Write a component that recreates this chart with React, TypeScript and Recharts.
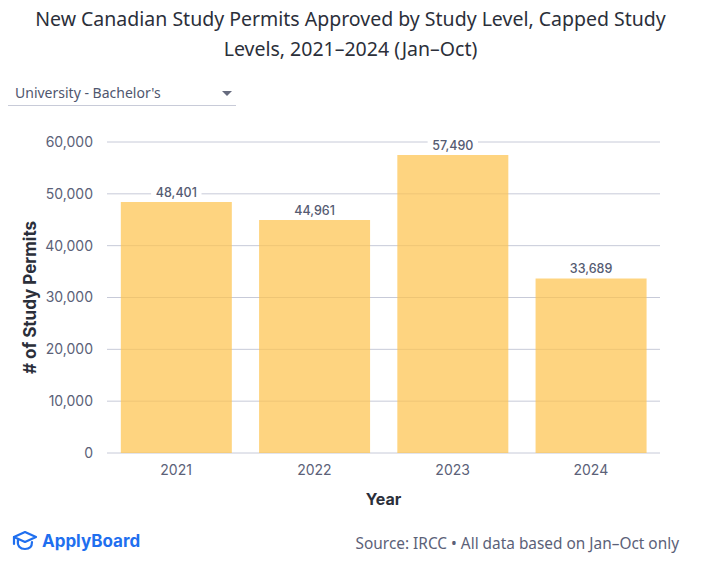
import { BarChart, Bar, XAxis, YAxis, CartesianGrid, LabelList, Label } from "recharts";

const years = ["2021", "2022", "2023", "2024"];
const permits = [48401, 44961, 57490, 33689];
const yTicks = [0, 10000, 20000, 30000, 40000, 50000, 60000];

const data = years.map((year, i) => ({ year, permits: permits[i] }));

const fmt = (v: number) => v.toLocaleString("en-US");
const tickFont = "Inter, 'Noto Sans', sans-serif";

function ValueLabel(props: any) {
  const { x, y, width, value } = props;
  const text = fmt(value);
  const cx = x + width / 2;
  const w = text.length * 7.4 + 6;
  return (
    <g>
      <rect x={cx - w / 2} y={y - 17} width={w} height={14} fill="#fff" />
      <text
        x={cx}
        y={y - 5}
        textAnchor="middle"
        fontSize={12.5}
        fontWeight={500}
        fill="#555b72"
        fontFamily={tickFont}
      >
        {text}
      </text>
    </g>
  );
}

export default function App() {
  return (
    <div
      style={{
        position: "absolute",
        left: 0,
        top: 0,
        width: 701,
        height: 571,
        background: "#fff",
        fontFamily: "'Noto Sans', sans-serif",
      }}
    >
      <div
        style={{
          position: "absolute",
          top: 4,
          left: 0,
          width: 701,
          textAlign: "center",
          fontSize: 19.5,
          lineHeight: "30px",
          color: "#2b2f3a",
        }}
      >
        New Canadian Study Permits Approved by Study Level, Capped Study
        <br />
        Levels, 2021–2024 (Jan–Oct)
      </div>
      <div
        style={{
          position: "absolute",
          top: 83,
          left: 8,
          width: 228,
          height: 22,
          borderBottom: "1px solid #c8cbd8",
          fontSize: 14,
          color: "#4f566e",
        }}
      >
        <span style={{ position: "absolute", left: 7, top: 0 }}>University - Bachelor's</span>
        <span
          style={{
            position: "absolute",
            left: 214,
            top: 8,
            width: 0,
            height: 0,
            borderLeft: "5px solid transparent",
            borderRight: "5px solid transparent",
            borderTop: "5px solid #666b7e",
          }}
        />
      </div>
      <div style={{ position: "absolute", left: 0, top: 0 }}>
        <BarChart
          width={701}
          height={571}
          data={data}
          margin={{ top: 142, right: 41, bottom: 88, left: 40 }}
          barCategoryGap="10%"
        >
          <CartesianGrid vertical={false} stroke="#c7cad8" />
          <XAxis
            dataKey="year"
            axisLine={false}
            tickLine={false}
            tick={{ fill: "#5b6178", fontSize: 14, fontFamily: tickFont }}
            tickMargin={6}
          >
            <Label
              value="Year"
              position="insideBottom"
              offset={-22}
              style={{ fill: "#2b2f3a", fontSize: 16, fontWeight: 700, fontFamily: tickFont }}
            />
          </XAxis>
          <YAxis
            width={67}
            domain={[0, 60000]}
            ticks={yTicks}
            axisLine={false}
            tickLine={false}
            tickFormatter={fmt}
            tick={{ fill: "#5b6178", fontSize: 14, fontFamily: tickFont }}
            tickMargin={8}
          >
            <Label
              value="# of Study Permits"
              angle={-90}
              position="insideLeft"
              offset={-10}
              style={{
                textAnchor: "middle",
                fill: "#2b2f3a",
                fontSize: 17,
                fontWeight: 700,
                fontFamily: tickFont,
              }}
            />
          </YAxis>
          <Bar
            dataKey="permits"
            fill="#fdc44f"
            fillOpacity={0.72}
            isAnimationActive={false}
          >
            <LabelList dataKey="permits" content={<ValueLabel />} />
          </Bar>
        </BarChart>
      </div>
      <div
        style={{
          position: "absolute",
          left: 12,
          top: 530,
          display: "flex",
          alignItems: "center",
          color: "#1f6fef",
          fontWeight: 700,
          fontSize: 17,
          fontFamily: tickFont,
        }}
      >
        <svg width={26} height={22} viewBox="0 0 26 22" style={{ marginRight: 4 }}>
          <path d="M2 7 L13 2 L24 7 L13 12 Z" fill="none" stroke="#1f6fef" strokeWidth={2.2} strokeLinejoin="round" />
          <path d="M6 10 C5 16 8 19 13 19 C17 19 20 17 20 12" fill="none" stroke="#1f6fef" strokeWidth={2.2} strokeLinecap="round" />
          <path d="M2 7 L2 14" stroke="#1f6fef" strokeWidth={2.2} strokeLinecap="round" />
        </svg>
        ApplyBoard
      </div>
      <div
        style={{
          position: "absolute",
          right: 22,
          top: 533,
          fontSize: 15.4,
          color: "#5b6178",
        }}
      >
        Source: IRCC • All data based on Jan–Oct only
      </div>
    </div>
  );
}
